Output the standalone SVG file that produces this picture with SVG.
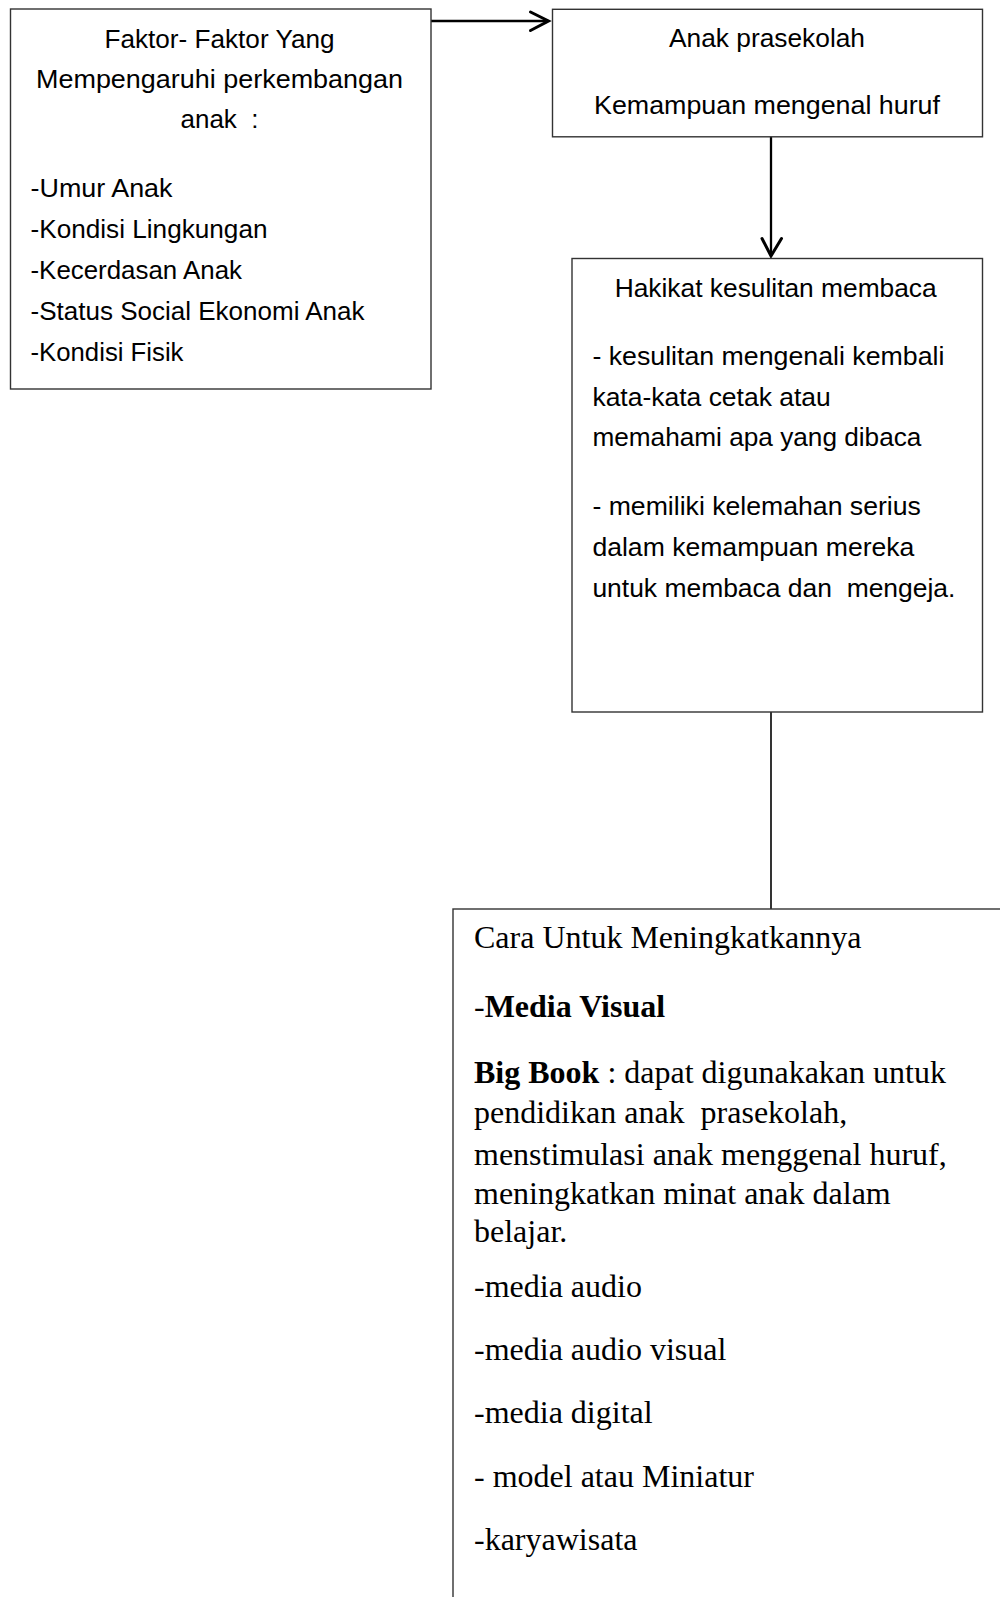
<svg xmlns="http://www.w3.org/2000/svg" width="1000" height="1597" viewBox="0 0 1000 1597">
<style>
.box{fill:#fff;stroke:#333;stroke-width:1.4}
.c{font-family:"Liberation Sans",Arial,sans-serif;font-size:26.5px;fill:#000}
.t{font-family:"Liberation Serif","Times New Roman",serif;font-size:32px;fill:#000}
.mid{text-anchor:middle}
.b{font-weight:bold}
.ln{fill:none;stroke:#000;stroke-width:2.3;stroke-linecap:round;stroke-linejoin:round}
.hd{fill:none;stroke:#000;stroke-width:3;stroke-linecap:round;stroke-linejoin:miter}
</style>
<rect width="1000" height="1597" fill="#fff"/>
<g id="connectors">
<line class="ln" x1="431" y1="21" x2="547" y2="21"/>
<polyline class="hd" points="530.5,12 548.5,21 530.5,30.5"/>
<line class="ln" x1="771" y1="129" x2="771" y2="255"/>
<polyline class="hd" points="762,238.5 771,256 781.5,238.5"/>
<line x1="771" y1="711" x2="771" y2="909" stroke="#000" stroke-width="1.6"/>
</g>
<g id="node-faktor">
<rect class="box" x="10.5" y="9" width="420.5" height="380"/>
<text class="c mid" x="219.5" y="48" textLength="230" lengthAdjust="spacingAndGlyphs">Faktor- Faktor Yang</text>
<text class="c mid" x="219.5" y="88" textLength="367" lengthAdjust="spacingAndGlyphs">Mempengaruhi perkembangan</text>
<text class="c mid" x="219.5" y="128" xml:space="preserve" textLength="78" lengthAdjust="spacingAndGlyphs">anak  :</text>
<text class="c" x="30.5" y="196.5" textLength="142" lengthAdjust="spacingAndGlyphs">-Umur Anak</text>
<text class="c" x="30.5" y="237.5" textLength="237" lengthAdjust="spacingAndGlyphs">-Kondisi Lingkungan</text>
<text class="c" x="30.5" y="278.5" textLength="211.5" lengthAdjust="spacingAndGlyphs">-Kecerdasan Anak</text>
<text class="c" x="30.5" y="319.5" textLength="334" lengthAdjust="spacingAndGlyphs">-Status Social Ekonomi Anak</text>
<text class="c" x="30.5" y="360.5" textLength="153" lengthAdjust="spacingAndGlyphs">-Kondisi Fisik</text>
</g>
<g id="node-anak">
<rect class="box" x="552.5" y="9.3" width="430" height="127.5"/>
<text class="c mid" x="767" y="47" textLength="196" lengthAdjust="spacingAndGlyphs">Anak prasekolah</text>
<text class="c mid" x="767" y="114" textLength="346" lengthAdjust="spacingAndGlyphs">Kemampuan mengenal huruf</text>
</g>
<g id="node-hakikat">
<rect class="box" x="572" y="258.5" width="410.5" height="453.5"/>
<text class="c mid" x="775.7" y="296.5" textLength="322" lengthAdjust="spacingAndGlyphs">Hakikat kesulitan membaca</text>
<text class="c" x="592.4" y="365" textLength="352" lengthAdjust="spacingAndGlyphs">- kesulitan mengenali kembali</text>
<text class="c" x="592.4" y="405.7" textLength="238.4" lengthAdjust="spacingAndGlyphs">kata-kata cetak atau</text>
<text class="c" x="592.4" y="446" textLength="329" lengthAdjust="spacingAndGlyphs">memahami apa yang dibaca</text>
<text class="c" x="592.4" y="515" textLength="328.5" lengthAdjust="spacingAndGlyphs">- memiliki kelemahan serius</text>
<text class="c" x="592.4" y="556" textLength="322" lengthAdjust="spacingAndGlyphs">dalam kemampuan mereka</text>
<text class="c" x="592.4" y="596.7" xml:space="preserve" textLength="363" lengthAdjust="spacingAndGlyphs">untuk membaca dan  mengeja.</text>
</g>
<g id="node-cara">
<rect class="box" x="453" y="909" width="600" height="760"/>
<text class="t" x="474" y="948">Cara Untuk Meningkatkannya</text>
<text class="t" x="474" y="1017">-<tspan class="b">Media Visual</tspan></text>
<text class="t" x="474" y="1083"><tspan class="b">Big Book</tspan> : dapat digunakakan untuk</text>
<text class="t" x="474" y="1123" xml:space="preserve">pendidikan anak  prasekolah,</text>
<text class="t" x="474" y="1164.5">menstimulasi anak menggenal huruf,</text>
<text class="t" x="474" y="1204">meningkatkan minat anak dalam</text>
<text class="t" x="474" y="1241.5">belajar.</text>
<text class="t" x="474" y="1296.5">-media audio</text>
<text class="t" x="474" y="1360">-media audio visual</text>
<text class="t" x="474" y="1423">-media digital</text>
<text class="t" x="474" y="1486.5">- model atau Miniatur</text>
<text class="t" x="474" y="1550">-karyawisata</text>
</g>
</svg>
